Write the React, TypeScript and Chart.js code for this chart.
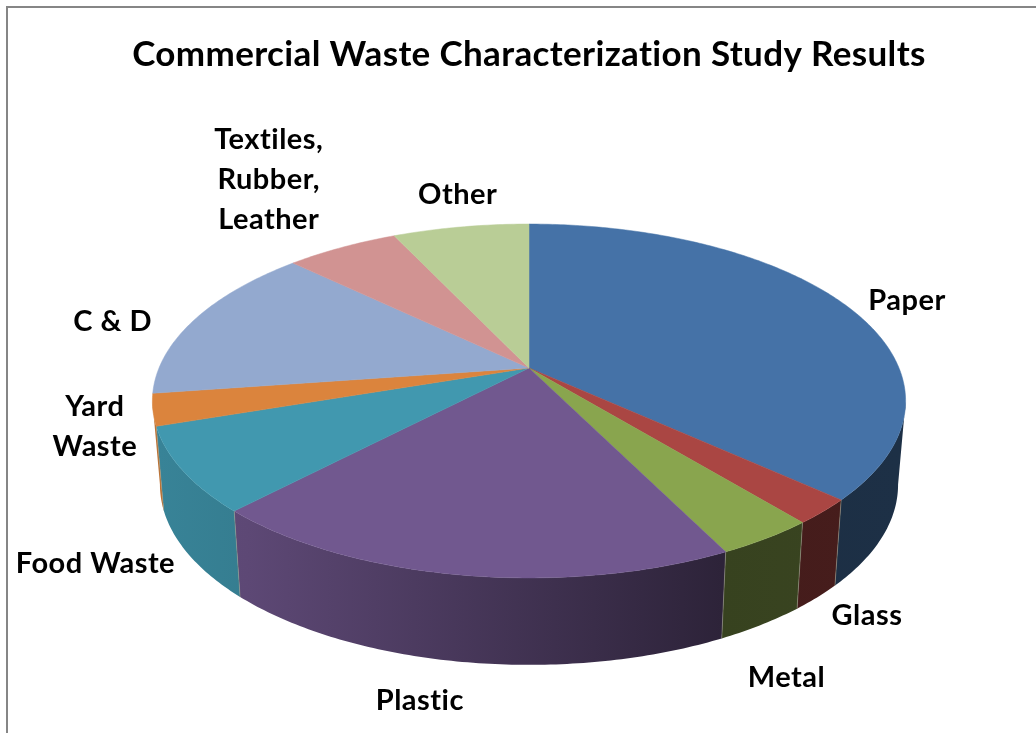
import React, { useEffect, useRef } from "react";
import { Chart, ArcElement, PieController, registerables } from "chart.js";

const chartTitle = "Commercial Waste Characterization Study Results";
const categories: (string | string[])[] = [
  "Paper",
  "Glass",
  "Metal",
  "Plastic",
  "Food Waste",
  ["Yard", "Waste"],
  "C & D",
  ["Textiles,", "Rubber,", "Leather"],
  "Other",
];
const shares = [36.8, 2.3, 3.6, 19.4, 7.7, 2.9, 14.5, 5.8, 7.0];
const sliceColors = [
  "#4572a7",
  "#aa4643",
  "#89a54e",
  "#71588f",
  "#4198af",
  "#db843d",
  "#93a9cf",
  "#d19392",
  "#b9cd96",
];
// Label offset from the rim point at each slice's middle angle.
const labelOffsets = [
  [63, -3],
  [44, 104],
  [20, 139],
  [-41, 126],
  [-87, 93],
  [-58, 17],
  [-83, 3],
  [-73, -68],
  [-3, -32],
];

// Perspective of the tilted disc, as fractions of the pie radius.
const PERSPECTIVE = -0.1864;
const TILT = 0.4616;
const WALL_TAPER = 0.98;
const WALL_DEPTH = 0.224;
const WALL_DEPTH_FRONT = 0.011;
const EDGE_ANGLE = Math.asin(-PERSPECTIVE);
const FONT_FAMILY = "Lato, 'Open Sans', sans-serif";

function rimPoint(x: number, y: number, r: number, angle: number) {
  const u = Math.cos(angle);
  const v = Math.sin(angle);
  const d = 1 + PERSPECTIVE * v;
  return { x: x + (r * u) / d, y: y + (r * TILT * v) / d };
}

function floorPoint(x: number, y: number, r: number, angle: number) {
  const p = rimPoint(x, y, r, angle);
  return {
    x: x + (p.x - x) * WALL_TAPER,
    y: p.y + r * (WALL_DEPTH + WALL_DEPTH_FRONT * Math.sin(angle)),
  };
}

function shade(hex: string, k: number) {
  const n = parseInt(hex.slice(1), 16);
  const c = [(n >> 16) & 255, (n >> 8) & 255, n & 255].map((v) => Math.round(v * k));
  return `rgb(${c[0]},${c[1]},${c[2]})`;
}

// Pie slice drawn as a tilted disc sector with its visible side wall.
class TiltedArc extends ArcElement {
  static id = "tiltedArc";

  draw(ctx: CanvasRenderingContext2D) {
    const { x, y, outerRadius: r, startAngle, endAngle } = this as any;
    const color = (this as any).options.backgroundColor as string;

    const wallFrom = Math.max(startAngle, EDGE_ANGLE);
    const wallTo = Math.min(endAngle, Math.PI - EDGE_ANGLE);
    if (wallTo > wallFrom) {
      const steps = Math.ceil((wallTo - wallFrom) * 80);
      const gradient = ctx.createLinearGradient(x - r, 0, x + r, 0);
      gradient.addColorStop(0, shade(color, 0.86));
      gradient.addColorStop(0.12, shade(color, 0.82));
      gradient.addColorStop(0.76, shade(color, 0.4));
      gradient.addColorStop(1, shade(color, 0.42));
      ctx.beginPath();
      for (let i = 0; i <= steps; i++) {
        const p = rimPoint(x, y, r, wallFrom + ((wallTo - wallFrom) * i) / steps);
        if (i === 0) ctx.moveTo(p.x, p.y);
        else ctx.lineTo(p.x, p.y);
      }
      for (let i = steps; i >= 0; i--) {
        const p = floorPoint(x, y, r, wallFrom + ((wallTo - wallFrom) * i) / steps);
        ctx.lineTo(p.x, p.y);
      }
      ctx.closePath();
      ctx.fillStyle = gradient;
      ctx.fill();

      // Faint seam where two side walls meet.
      if (startAngle > EDGE_ANGLE) {
        const a = rimPoint(x, y, r, startAngle);
        const b = floorPoint(x, y, r, startAngle);
        ctx.beginPath();
        ctx.moveTo(a.x, a.y);
        ctx.lineTo(b.x, b.y);
        ctx.strokeStyle = "rgba(150,150,130,0.55)";
        ctx.lineWidth = 1;
        ctx.stroke();
      }
    }

    const steps = Math.ceil((endAngle - startAngle) * 80);
    ctx.beginPath();
    ctx.moveTo(x, y);
    for (let i = 0; i <= steps; i++) {
      const p = rimPoint(x, y, r, startAngle + ((endAngle - startAngle) * i) / steps);
      ctx.lineTo(p.x, p.y);
    }
    ctx.closePath();
    ctx.fillStyle = color;
    ctx.fill();
    ctx.strokeStyle = color;
    ctx.lineWidth = 0.5;
    ctx.stroke();
  }
}

class TiltedPieController extends PieController {
  static id = "tiltedPie";
  static defaults = { dataElementType: "tiltedArc" };
}

Chart.register(...registerables, TiltedArc, TiltedPieController);

// Slight tracking for the title, which the title plugin inherits from the context.
const titleTracking = {
  id: "titleTracking",
  beforeDraw(chart: Chart) {
    const ctx = chart.ctx as any;
    ctx.letterSpacing = "0.35px";
  },
};

const sliceLabels = {
  id: "sliceLabels",
  afterDatasetsDraw(chart: Chart) {
    const ctx = chart.ctx as any;
    const arcs = chart.getDatasetMeta(0).data as any[];
    ctx.save();
    ctx.letterSpacing = "0.5px";
    ctx.font = `bold 29px ${FONT_FAMILY}`;
    ctx.fillStyle = "#000";
    ctx.textAlign = "center";
    ctx.textBaseline = "middle";
    arcs.forEach((arc, i) => {
      const rim = rimPoint(arc.x, arc.y, arc.outerRadius, (arc.startAngle + arc.endAngle) / 2);
      const raw = categories[i];
      const lines = Array.isArray(raw) ? raw : [raw];
      const cx = rim.x + labelOffsets[i][0];
      const cy = rim.y + labelOffsets[i][1];
      lines.forEach((line, k) => {
        ctx.fillText(line, cx, cy + (k - (lines.length - 1) / 2) * 40);
      });
    });
    ctx.restore();
  },
};

export default function App() {
  const ref = useRef<HTMLCanvasElement>(null);

  useEffect(() => {
    const chart = new Chart(ref.current!, {
      type: "tiltedPie" as any,
      data: {
        labels: categories as any,
        datasets: [
          {
            data: shares,
            backgroundColor: sliceColors,
            borderWidth: 0,
            clip: false,
          } as any,
        ],
      },
      options: {
        responsive: false,
        animation: false,
        events: [],
        radius: 370,
        layout: { padding: { left: 22, bottom: 73 } },
        plugins: {
          legend: { display: false },
          tooltip: { enabled: false },
          title: {
            display: true,
            text: chartTitle,
            color: "#000",
            font: { family: FONT_FAMILY, size: 35, weight: "bold", lineHeight: 1.2 },
            padding: { top: 34, bottom: 0 },
          },
        },
      } as any,
      plugins: [titleTracking, sliceLabels],
    });
    return () => chart.destroy();
  }, []);

  return (
    <div style={{ position: "fixed", left: 0, top: 0, width: 1036, height: 733, overflow: "hidden", background: "#fff" }}>
      <div
        style={{
          position: "absolute",
          left: 6,
          top: 6,
          width: 1100,
          height: 800,
          border: "2px solid #868686",
        }}
      />
      <canvas ref={ref} width={1036} height={733} style={{ position: "absolute", left: 0, top: 0 }} />
    </div>
  );
}
